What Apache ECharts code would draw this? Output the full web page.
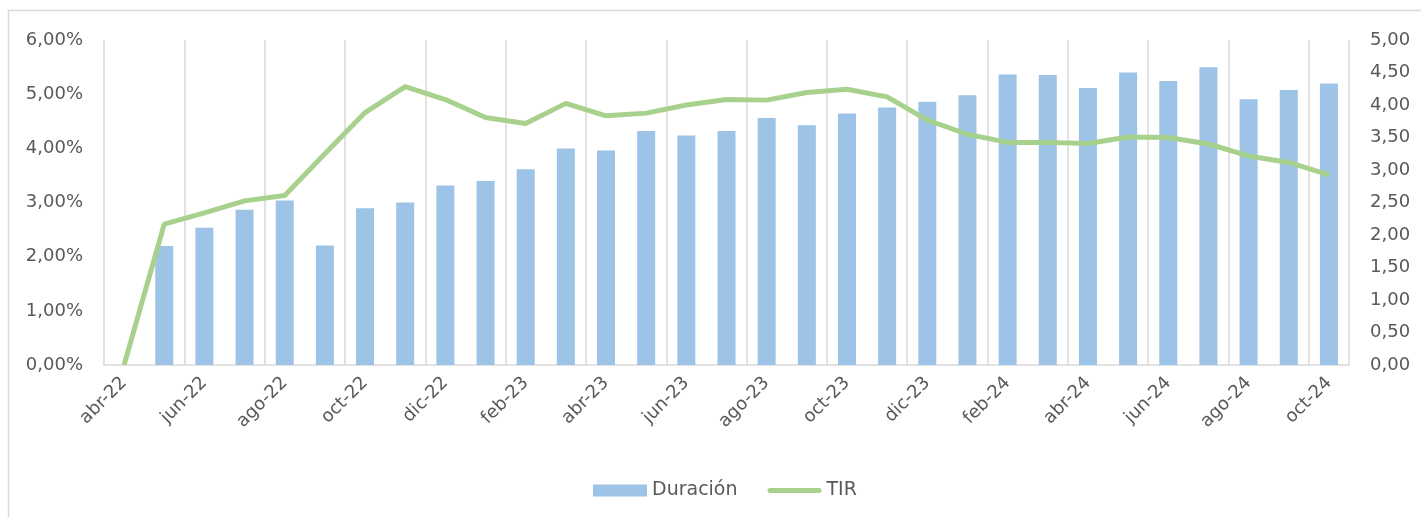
<!DOCTYPE html>
<html>
<head>
<meta charset="utf-8">
<script src="https://cdn.jsdelivr.net/npm/echarts@6/dist/echarts.min.js"></script>
<style>html,body{margin:0;padding:0;background:#fff;}#c{width:1421px;height:517px;}</style>
</head>
<body>
<div id="c"></div>
<script>
const categories = ['abr-22','may-22','jun-22','jul-22','ago-22','sep-22','oct-22','nov-22','dic-22',
  'ene-23','feb-23','mar-23','abr-23','may-23','jun-23','jul-23','ago-23','sep-23','oct-23','nov-23','dic-23',
  'ene-24','feb-24','mar-24','abr-24','may-24','jun-24','jul-24','ago-24','sep-24','oct-24'];
const duracion = [null,1.83,2.11,2.39,2.53,1.84,2.41,2.50,2.76,
  2.83,3.01,3.33,3.30,3.60,3.53,3.60,3.80,3.69,3.87,3.96,4.05,
  4.15,4.47,4.46,4.26,4.50,4.37,4.58,4.09,4.23,4.33];
const tir = [0.00,2.60,2.81,3.03,3.13,3.90,4.66,5.14,4.90,
  4.57,4.46,4.83,4.60,4.65,4.80,4.90,4.89,5.03,5.09,4.95,4.52,
  4.26,4.11,4.11,4.09,4.21,4.20,4.08,3.86,3.74,3.51];

const FONT = 'DejaVu Sans';
const TXT = '#595959';
const chart = echarts.init(document.getElementById('c'), null, {renderer:'canvas'});
chart.setOption({
  animation: false,
  textStyle: {fontFamily: FONT},
  graphic: [
    {type:'rect', shape:{x:8.5, y:10.5, width:1440, height:540}, style:{fill:'none', stroke:'#d9d9d9', lineWidth:1.5}, z:-1}
  ],
  grid: {left:104, right:72, top:40, bottom:152, containLabel:false},
  legend: {
    top: 476, left: 588, itemGap: 30, itemWidth: 54, itemHeight: 12,
    symbolKeepAspect: true,
    textStyle: {fontFamily: FONT, fontSize: 19, color: TXT},
    data: [
      {name:'Duración', icon:'rect', itemStyle:{color:'#9dc3e6'}},
      {name:'TIR', icon:'path://M2.5,0 L51.5,0 A2.5,2.5 0 0 1 51.5,5 L2.5,5 A2.5,2.5 0 0 1 2.5,0 Z', itemStyle:{color:'#a9d18e'}}
    ]
  },
  xAxis: {
    type: 'category', data: categories, boundaryGap: true,
    axisLine: {lineStyle:{color:'#d9d9d9', width:1.5}},
    axisTick: {show:false},
    axisLabel: {interval:1, rotate:45, margin:15, color:TXT, fontFamily:FONT, fontSize:18},
    splitLine: {show:true, interval:1, lineStyle:{color:'#d9d9d9', width:1.5}}
  },
  yAxis: [
    {type:'value', min:0, max:6, interval:1, position:'left',
     axisLine:{show:false}, axisTick:{show:false}, splitLine:{show:false},
     axisLabel:{margin:21, color:TXT, fontFamily:FONT, fontSize:18,
       formatter: v => v.toFixed(2).replace('.', ',') + '%'}},
    {type:'value', min:0, max:5, interval:0.5, position:'right',
     axisLine:{show:false}, axisTick:{show:false}, splitLine:{show:false},
     axisLabel:{margin:21, color:TXT, fontFamily:FONT, fontSize:18,
       formatter: v => v.toFixed(2).replace('.', ',')}}
  ],
  series: [
    {name:'Duración', type:'bar', yAxisIndex:1, data:duracion, barWidth:18,
     itemStyle:{color:'#9dc3e6'}},
    {name:'TIR', type:'line', yAxisIndex:0, data:tir, symbol:'none',
     lineStyle:{color:'#a9d18e', width:5}, itemStyle:{color:'#a9d18e'}, z:5}
  ]
});
</script>
</body>
</html>
